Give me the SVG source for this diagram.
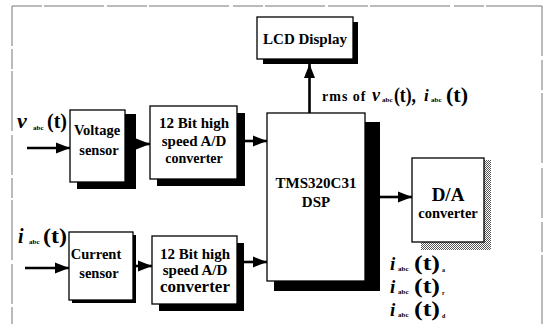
<svg xmlns="http://www.w3.org/2000/svg" width="547" height="324" viewBox="0 0 547 324">
<defs>
<style>
.box{fill:#fff;stroke:#000;stroke-width:1.3}
.sh{fill:#000}
.t{font-family:"Liberation Serif","Times New Roman",serif;font-weight:bold;fill:#000}
.c{stroke:#000;stroke-width:2.6;fill:none}
.fr{stroke:#777;stroke-width:1;fill:none}
</style>
<marker id="ah" markerUnits="userSpaceOnUse" markerWidth="15" markerHeight="12" refX="14" refY="6" orient="auto">
<path d="M0,0.5 L14,6 L0,11.5 z" fill="#000"/>
</marker>
<pattern id="ht" width="2" height="2" patternUnits="userSpaceOnUse">
<rect width="2" height="2" fill="#fff"/>
<rect width="1" height="1" fill="#555"/>
<rect x="1" y="1" width="1" height="1" fill="#555"/>
</pattern>
</defs>
<rect width="547" height="324" fill="#fff"/>
<g id="frame">
<path class="fr" d="M12,6 H542" stroke-dasharray="30,2,60,3,40,2,80,4"/>
<path class="fr" d="M12,6 V324" stroke-dasharray="40,3,20,2,60,4"/>
<path class="fr" d="M542,6 V324" stroke-dasharray="50,4,30,3,70,5" stroke="#aaa"/>
</g>
<g id="connectors">
<path class="c" d="M27,148 H70" marker-end="url(#ah)"/>
<path class="c" d="M136,144 H150" marker-end="url(#ah)"/>
<path class="c" d="M245,141 H267" marker-end="url(#ah)"/>
<path class="c" d="M309.5,113 V64" marker-end="url(#ah)"/>
<path class="c" d="M380,197 H412" marker-end="url(#ah)"/>
<path class="c" d="M25,268 H69" marker-end="url(#ah)"/>
<path class="c" d="M136,266 H152" marker-end="url(#ah)"/>
<path class="c" d="M244,262 H267" marker-end="url(#ah)"/>
</g>
<g id="lcd">
<rect class="sh" x="263" y="22" width="95" height="42"/>
<rect class="box" x="257" y="17" width="96" height="42"/>
<text class="t" x="305" y="44" font-size="15" text-anchor="middle">LCD Display</text>
</g>
<g id="voltage-sensor">
<rect class="sh" x="77" y="114" width="59" height="75"/>
<rect class="box" x="70" y="110" width="55" height="72"/>
<text class="t" x="97" y="135" font-size="14.5" text-anchor="middle">Voltage</text>
<text class="t" x="99" y="155" font-size="14.5" text-anchor="middle">sensor</text>
</g>
<g id="ad-upper">
<rect class="sh" x="157" y="113" width="88" height="73"/>
<rect class="box" x="150" y="106" width="87" height="73"/>
<text class="t" x="194" y="127.5" font-size="15" text-anchor="middle">12 Bit high</text>
<text class="t" x="194" y="146" font-size="15" text-anchor="middle">speed A/D</text>
<text class="t" x="194" y="163" font-size="14" text-anchor="middle">converter</text>
</g>
<g id="dsp">
<rect class="sh" x="274" y="122" width="106" height="169"/>
<rect class="box" x="267" y="113" width="98" height="168"/>
<text class="t" x="316" y="188" font-size="15" text-anchor="middle">TMS320C31</text>
<text class="t" x="316" y="207" font-size="15" text-anchor="middle">DSP</text>
</g>
<g id="da">
<rect x="421" y="160" width="70" height="90" fill="url(#ht)"/>
<rect class="box" x="412" y="158" width="72" height="84"/>
<text class="t" x="448" y="201" font-size="19" text-anchor="middle">D/A</text>
<text class="t" x="448" y="218" font-size="14.5" text-anchor="middle">converter</text>
</g>
<g id="current-sensor">
<rect class="sh" x="72" y="235" width="64" height="68"/>
<rect class="box" x="69" y="232" width="64" height="68"/>
<text class="t" x="96" y="259" font-size="14.5" text-anchor="middle">Current</text>
<text class="t" x="99" y="278" font-size="14.5" text-anchor="middle">sensor</text>
</g>
<g id="ad-lower">
<rect class="sh" x="159" y="243" width="85" height="68"/>
<rect class="box" x="152" y="236" width="85" height="68"/>
<text class="t" x="195" y="259" font-size="15" text-anchor="middle">12 Bit high</text>
<text class="t" x="195" y="275" font-size="15" text-anchor="middle">speed A/D</text>
<text class="t" x="195" y="292" font-size="17" text-anchor="middle">converter</text>
</g>
<g id="labels">
<text class="t" x="17" y="128" font-size="22" font-style="italic">v</text>
<text class="t" x="33" y="130" font-size="7">abc</text>
<text class="t" x="47" y="128" font-size="22" textLength="20" lengthAdjust="spacingAndGlyphs">(t)</text>
<text class="t" x="18" y="243" font-size="20" font-style="italic">i</text>
<text class="t" x="29" y="244" font-size="7">abc</text>
<text class="t" x="43" y="243" font-size="20" textLength="24" lengthAdjust="spacingAndGlyphs">(t)</text>
<text class="t" x="322" y="101" font-size="14" letter-spacing="1">rms of</text>
<text class="t" x="372" y="101" font-size="18" font-style="italic">v</text>
<text class="t" x="382" y="102" font-size="7">abc</text>
<text class="t" x="394" y="102" font-size="21" textLength="22" lengthAdjust="spacingAndGlyphs">(t),</text>
<text class="t" x="424" y="101" font-size="17" font-style="italic">i</text>
<text class="t" x="431" y="102" font-size="7">abc</text>
<text class="t" x="446" y="102" font-size="21" textLength="22" lengthAdjust="spacingAndGlyphs">(t)</text>
<text class="t" x="390" y="270" font-size="19" font-style="italic">i</text>
<text class="t" x="398" y="271" font-size="7">abc</text>
<text class="t" x="414" y="270" font-size="20" textLength="26" lengthAdjust="spacingAndGlyphs">(t)</text>
<text class="t" x="442" y="272" font-size="6">a</text>
<text class="t" x="390" y="293" font-size="19" font-style="italic">i</text>
<text class="t" x="398" y="294" font-size="7">abc</text>
<text class="t" x="414" y="293" font-size="20" textLength="26" lengthAdjust="spacingAndGlyphs">(t)</text>
<text class="t" x="442" y="295" font-size="6">r</text>
<text class="t" x="390" y="316" font-size="19" font-style="italic">i</text>
<text class="t" x="398" y="317" font-size="7">abc</text>
<text class="t" x="414" y="316" font-size="20" textLength="26" lengthAdjust="spacingAndGlyphs">(t)</text>
<text class="t" x="442" y="318" font-size="6">d</text>
</g>
</svg>
